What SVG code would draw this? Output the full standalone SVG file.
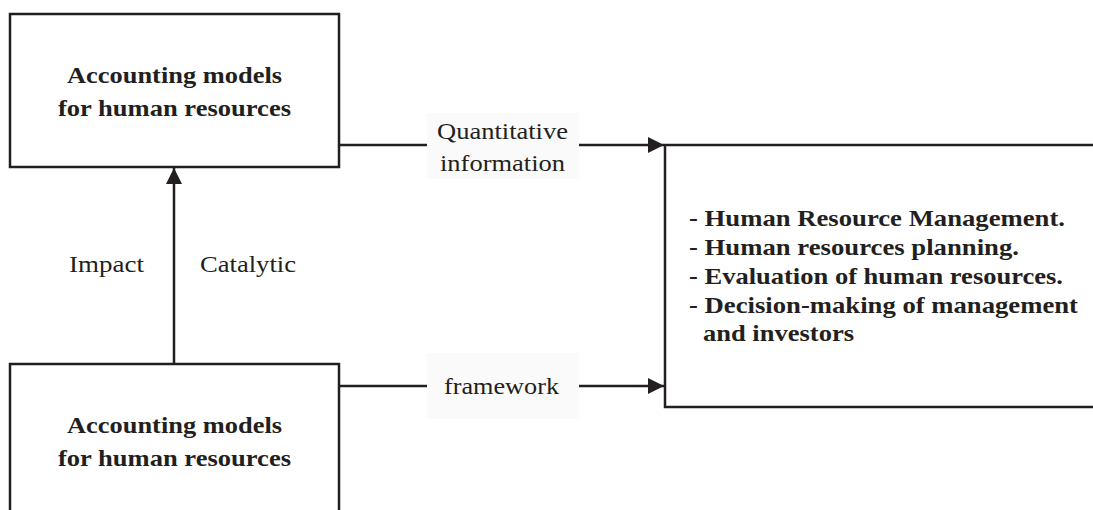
<svg xmlns="http://www.w3.org/2000/svg" width="1093" height="510" viewBox="0 0 1093 510">
<defs>
<style>
.box{fill:#fff;stroke:#231f20;stroke-width:2.5}
.conn{stroke:#231f20;stroke-width:2.5;fill:none}
.bt{font-family:"Liberation Serif","Times New Roman",serif;font-weight:bold;font-size:23px;fill:#231f20}
.lt{font-family:"Liberation Serif","Times New Roman",serif;font-size:24px;fill:#231f20}
.lbl{fill:#fafafa}
</style>
<marker id="ah" markerWidth="16" markerHeight="16" viewBox="0 0 16 16" refX="16" refY="8" orient="auto" markerUnits="userSpaceOnUse">
<path d="M0,0 L16,8 L0,16 Z" fill="#231f20"/>
</marker>
</defs>
<rect width="1093" height="510" fill="#fff"/>
<g id="top-box">
<rect class="box" x="10" y="14" width="329" height="153"/>
<text class="bt" x="67" y="83" textLength="215" lengthAdjust="spacingAndGlyphs">Accounting models</text>
<text class="bt" x="58" y="116" textLength="233" lengthAdjust="spacingAndGlyphs">for human resources</text>
</g>
<g id="bottom-box">
<rect class="box" x="10" y="364" width="329" height="160"/>
<text class="bt" x="67" y="433" textLength="215" lengthAdjust="spacingAndGlyphs">Accounting models</text>
<text class="bt" x="58" y="466" textLength="233" lengthAdjust="spacingAndGlyphs">for human resources</text>
</g>
<g id="right-box">
<rect class="box" x="665" y="145" width="440" height="262"/>
<text class="bt" x="689" y="226" textLength="376" lengthAdjust="spacingAndGlyphs">- Human Resource Management.</text>
<text class="bt" x="689" y="255" textLength="330" lengthAdjust="spacingAndGlyphs">- Human resources planning.</text>
<text class="bt" x="689" y="284" textLength="374" lengthAdjust="spacingAndGlyphs">- Evaluation of human resources.</text>
<text class="bt" x="689" y="313" textLength="389" lengthAdjust="spacingAndGlyphs">- Decision-making of management</text>
<text class="bt" x="703" y="341" textLength="151" lengthAdjust="spacingAndGlyphs">and investors</text>
</g>
<g id="connectors">
<line class="conn" x1="174" y1="364" x2="174" y2="168" stroke-width="3" marker-end="url(#ah)"/>
<line class="conn" x1="339" y1="145" x2="664" y2="145" marker-end="url(#ah)"/>
<line class="conn" x1="339" y1="386" x2="664" y2="386" marker-end="url(#ah)"/>
<rect class="lbl" x="427" y="113" width="152" height="66"/>
<text class="lt" x="437" y="139" textLength="131" lengthAdjust="spacingAndGlyphs">Quantitative</text>
<text class="lt" x="440" y="171" textLength="125" lengthAdjust="spacingAndGlyphs">information</text>
<rect class="lbl" x="427" y="353" width="152" height="66"/>
<text class="lt" x="444" y="394" textLength="115" lengthAdjust="spacingAndGlyphs">framework</text>
<text class="lt" x="69" y="272" textLength="75" lengthAdjust="spacingAndGlyphs">Impact</text>
<text class="lt" x="200" y="272" textLength="96" lengthAdjust="spacingAndGlyphs">Catalytic</text>
</g>
</svg>
